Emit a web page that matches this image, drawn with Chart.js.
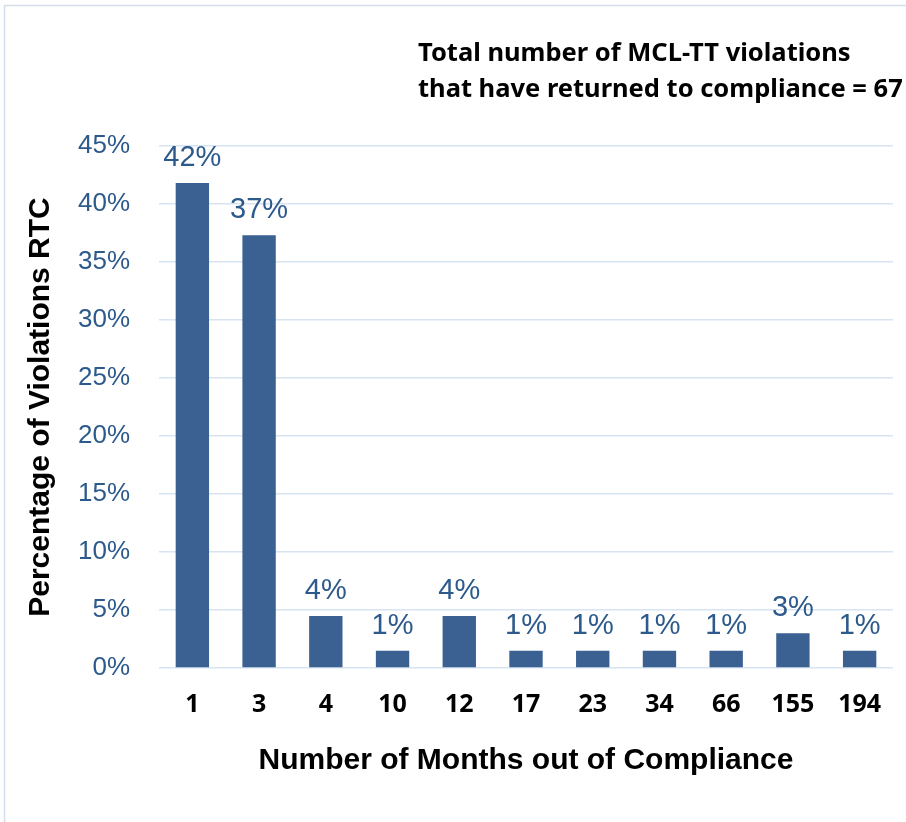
<!DOCTYPE html>
<html>
<head>
<meta charset="utf-8">
<script src="https://cdn.jsdelivr.net/npm/chart.js@4/dist/chart.umd.min.js"></script>
<style>
  html, body { margin: 0; padding: 0; background: #fff; }
  #wrap { position: relative; width: 906px; height: 822px; }
  canvas { display: block; }
</style>
</head>
<body>
<div id="wrap"><canvas id="c" width="906" height="822"></canvas></div>
<script>
const categories = ['1', '3', '4', '10', '12', '17', '23', '34', '66', '155', '194'];
const percentRTC = [41.8, 37.3, 4.48, 1.49, 4.48, 1.49, 1.49, 1.49, 1.49, 2.99, 1.49];
const yTicks = [0, 5, 10, 15, 20, 25, 30, 35, 40, 45];
const noteLines = ['Total number of MCL-TT violations', 'that have returned to compliance = 67'];
const xTitle = 'Number of Months out of Compliance';
const yTitle = 'Percentage of Violations RTC';

const BLUE_TEXT = '#2D5A8C';
const BAR = '#3A6191';
const GRID = '#D7E4F1';

const framePlugin = {
  id: 'frame',
  beforeDraw(chart) {
    const ctx = chart.ctx;
    ctx.save();
    ctx.strokeStyle = '#D3DEEA';
    ctx.lineWidth = 1.5;
    ctx.beginPath();
    ctx.moveTo(4.5, 822);
    ctx.lineTo(4.5, 5.5);
    ctx.lineTo(906, 5.5);
    ctx.stroke();
    ctx.restore();
  }
};

const valueLabels = {
  id: 'valueLabels',
  afterDatasetsDraw(chart) {
    const ctx = chart.ctx;
    const meta = chart.getDatasetMeta(0);
    ctx.save();
    ctx.font = '29px "Liberation Sans", Arial, sans-serif';
    ctx.fillStyle = BLUE_TEXT;
    ctx.textAlign = 'center';
    ctx.textBaseline = 'alphabetic';
    meta.data.forEach((bar, i) => {
      const v = chart.data.datasets[0].data[i];
      ctx.fillText(Math.round(v) + '%', bar.x, bar.y - 17);
    });
    ctx.restore();
  }
};

const notePlugin = {
  id: 'note',
  afterDraw(chart) {
    const ctx = chart.ctx;
    ctx.save();
    ctx.font = 'bold 25.5px "Noto Sans", "Open Sans", sans-serif';
    ctx.fillStyle = '#000';
    ctx.textAlign = 'left';
    ctx.textBaseline = 'alphabetic';
    ctx.fillText(noteLines[0], 418, 61);
    ctx.fillText(noteLines[1], 418, 97);
    ctx.restore();
  }
};

new Chart(document.getElementById('c'), {
  type: 'bar',
  data: {
    labels: categories,
    datasets: [{
      data: percentRTC,
      backgroundColor: BAR,
      borderWidth: 0,
      barPercentage: 0.5,
      categoryPercentage: 1.0
    }]
  },
  options: {
    responsive: false,
    animation: false,
    layout: { padding: { top: 146, right: 13, left: 0, bottom: 0 } },
    plugins: {
      legend: { display: false },
      tooltip: { enabled: false },
      title: { display: false }
    },
    scales: {
      x: {
        grid: { display: false, drawTicks: false },
        border: { display: false },
        ticks: {
          color: '#000',
          font: { family: '"Noto Sans", "Open Sans", sans-serif', size: 25, weight: 'bold' },
          padding: 22,
          maxRotation: 0,
          autoSkip: false
        },
        title: {
          display: true,
          text: xTitle,
          color: '#000',
          font: { family: '"Liberation Sans", Arial, sans-serif', size: 30, weight: 'bold' },
          padding: { top: 0, bottom: 43 }
        },
        afterFit(scale) { scale.height = 154; }
      },
      y: {
        min: 0,
        max: 45,
        afterBuildTicks(scale) { scale.ticks = yTicks.map(v => ({ value: v })); },
        grid: { color: GRID, lineWidth: 1.5, drawTicks: false },
        border: { display: false },
        ticks: {
          color: BLUE_TEXT,
          font: { family: '"Liberation Sans", Arial, sans-serif', size: 26 },
          padding: 29,
          callback: v => v + '%'
        },
        title: {
          display: true,
          text: yTitle,
          color: '#000',
          font: { family: '"Liberation Sans", Arial, sans-serif', size: 30, weight: 'bold' },
          padding: { top: 23, bottom: 0 }
        },
        afterFit(scale) { scale.width = 159; }
      }
    }
  },
  plugins: [framePlugin, valueLabels, notePlugin]
});
</script>
</body>
</html>
